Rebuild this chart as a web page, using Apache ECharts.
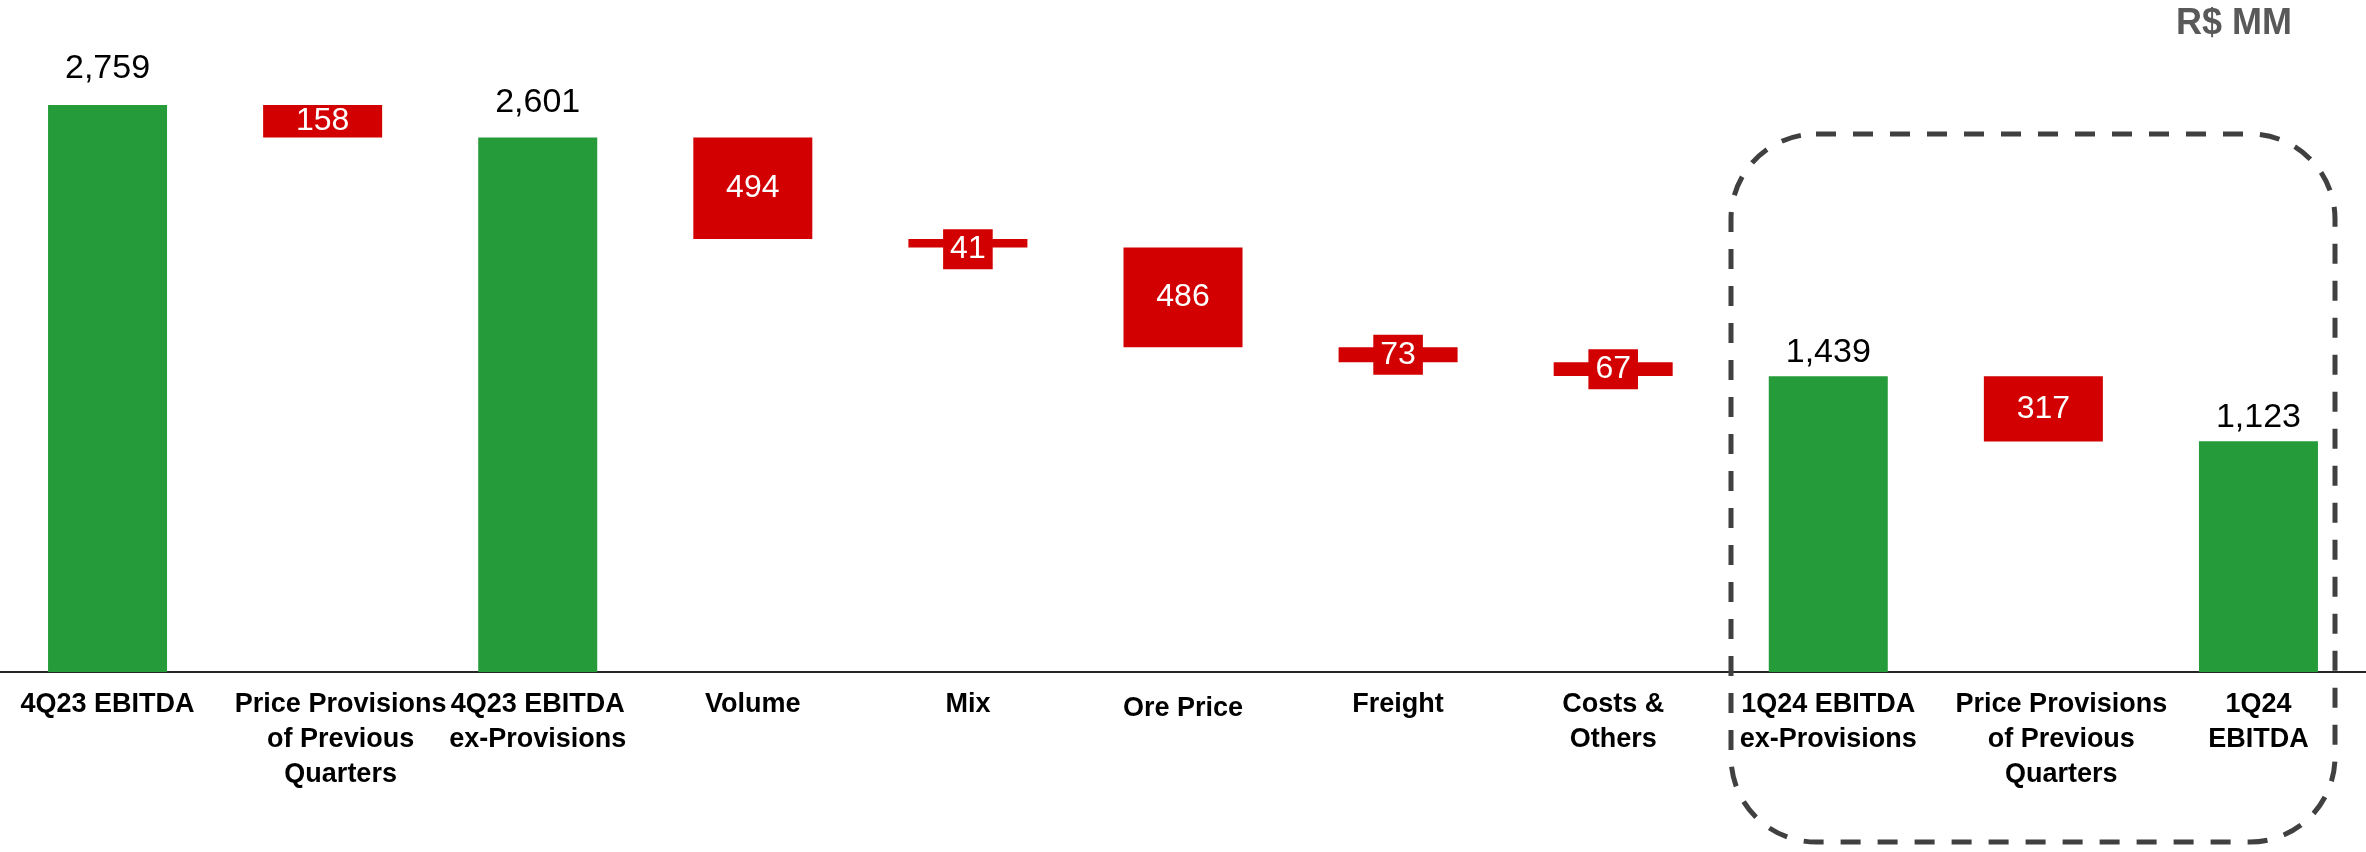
<!DOCTYPE html>
<html><head><meta charset="utf-8">
<script src="https://cdn.jsdelivr.net/npm/echarts@6/dist/echarts.min.js"></script>
<style>html,body{margin:0;padding:0;background:#fff}#c{width:2366px;height:852px}</style>
</head><body><div id="c"></div>
<script>
// ---- data ----
const categories = ['4Q23 EBITDA', 'Price Provisions\nof Previous\nQuarters', '4Q23 EBITDA\nex-Provisions', 'Volume', 'Mix', 'Ore Price', 'Freight', 'Costs &\nOthers', '1Q24 EBITDA\nex-Provisions', 'Price Provisions\nof Previous\nQuarters', '1Q24\nEBITDA'];
const values = [2759, -158, 2601, -494, -41, -486, -73, -67, 1439, -317, 1123];
const isTotal = [true, false, true, false, false, false, false, false, true, false, true];
const unitLabel = 'R$ MM';

// ---- styles ----
const FONT = '"Liberation Sans", Arial, sans-serif';
const GREEN = '#259B3A', RED = '#D20000';
const topGap = {0: 19, 2: 18, 8: 7, 10: 7};
const labelOffset = {4: [0, 6]};

// ---- waterfall layout from values ----
let running = 0;
const base = [], height = [];
values.forEach((v, i) => {
  if (isTotal[i]) { base.push(0); height.push(v); running = v; }
  else { const prev = running; running += v; base.push(Math.min(prev, running)); height.push(Math.abs(v)); }
});

const barData = height.map((h, i) => {
  const item = {value: h, itemStyle: {color: isTotal[i] ? GREEN : RED}};
  if (isTotal[i]) {
    item.label = {position: 'top', distance: topGap[i], color: '#000', fontSize: 34, lineHeight: 34};
  } else {
    item.label = {position: 'inside', color: '#fff'};
    if (h < 100) Object.assign(item.label, {backgroundColor: RED, padding: [4, 7]});
    if (labelOffset[i]) item.label.offset = labelOffset[i];
  }
  return item;
});

const axisData = categories.map((c, i) => {
  const d = {value: c};
  if (c.indexOf('Price Provisions') === 0) d.textStyle = {padding: [0, 0, 0, 36]};
  if (c === 'Ore Price') d.textStyle = {padding: [4, 0, 0, 0]};
  return d;
});

const chart = echarts.init(document.getElementById('c'), null, {renderer: 'canvas'});
chart.setOption({
  animation: false,
  backgroundColor: '#fff',
  title: {text: unitLabel, right: 69, top: 1, textStyle: {fontFamily: FONT, fontSize: 36, fontWeight: 'bold', color: '#595959'}},
  grid: {left: 0, right: 0, top: 55.5, bottom: 180, containLabel: false},
  xAxis: {
    type: 'category', data: axisData,
    axisLine: {show: true, lineStyle: {color: '#262626', width: 2}},
    axisTick: {show: false},
    axisLabel: {interval: 0, margin: 15.5, fontFamily: FONT, fontSize: 27, fontWeight: 'bold', color: '#000', lineHeight: 35}
  },
  yAxis: {type: 'value', min: 0, max: 3000, show: false, splitLine: {show: false}},
  series: [
    {type: 'bar', stack: 'w', data: base, barWidth: 119, itemStyle: {color: 'transparent'}, silent: true},
    {type: 'bar', stack: 'w', data: barData, barWidth: 119,
     label: {show: true, fontFamily: FONT, fontSize: 32, lineHeight: 32,
       formatter: p => Math.abs(values[p.dataIndex]).toLocaleString('en-US')}}
  ],
  graphic: [{
    type: 'rect', z: 10,
    shape: {x: 1731, y: 134, width: 604, height: 708, r: 85},
    style: {fill: 'none', stroke: '#404040', lineWidth: 5, lineDash: [20, 17]}
  }]
});
</script></body></html>
